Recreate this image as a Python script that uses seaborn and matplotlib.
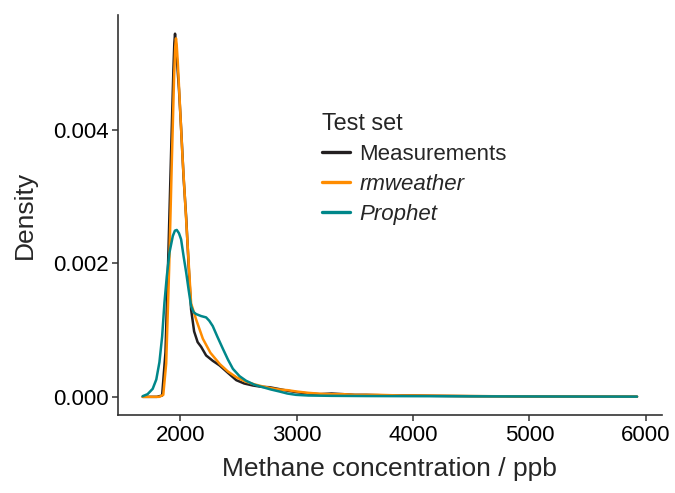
import matplotlib
matplotlib.use("Agg")
import matplotlib.pyplot as plt
import seaborn as sns
import pandas as pd

# ---- data ----
series_names = ["Measurements", "rmweather", "Prophet"]
series_colors = ["#231f20", "#ff8c00", "#00878a"]

measure_x = [1678, 1800, 1845, 1874, 1899, 1922, 1942, 1950, 1956, 1962, 1970, 1990,
             2008, 2030, 2052, 2073, 2094, 2120, 2150, 2180, 2223, 2280, 2339, 2410,
             2482, 2550, 2625, 2700, 2768, 2840, 2912, 3000, 3100, 3200, 3300, 3400,
             3500, 3600, 3800, 4000, 4200, 4500, 4800, 5000, 5300, 5600, 5925]
measure_y = [0.0, 0.0, 0.00002, 0.00067, 0.00216, 0.00365, 0.0049, 0.0053, 0.00544,
             0.0053, 0.0051, 0.0046, 0.00403, 0.00327, 0.00268, 0.00196, 0.00131,
             0.00098, 0.00082, 0.00075, 0.00062, 0.00054, 0.00047, 0.00036, 0.00025,
             0.0002, 0.00017, 0.00015, 0.000144, 0.00012, 0.000095, 0.00007, 0.00005,
             0.00004, 0.00005, 0.00004, 0.00003, 0.00003, 0.00002, 0.00002, 0.000015,
             0.00001, 0.000008, 0.000005, 0.000004, 0.000003, 0.000002]

rmw_x = [1678, 1820, 1855, 1880, 1905, 1928, 1948, 1958, 1964, 1970, 1980, 2000,
         2020, 2045, 2070, 2094, 2137, 2195, 2260, 2341, 2410, 2486, 2560, 2632,
         2700, 2780, 2850, 2923, 3000, 3100, 3214, 3300, 3400, 3500, 3700, 3900,
         4000, 4300, 4600, 5000, 5500, 5925]
rmw_y = [0.0, 0.0, 0.00003, 0.0005, 0.0019, 0.0035, 0.0048, 0.00525, 0.00537,
         0.00528, 0.0050, 0.0043, 0.0036, 0.00285, 0.0021, 0.0014, 0.00116,
         0.00087, 0.00066, 0.00049, 0.00038, 0.00029, 0.00023, 0.00019, 0.00016,
         0.00013, 0.00011, 0.0001, 0.00008, 0.00006, 0.000045, 0.00004, 0.00004,
         0.00003, 0.00003, 0.00002, 0.00002, 0.000015, 0.00001, 0.000006,
         0.000004, 0.000002]

prophet_x = [1678, 1720, 1764, 1795, 1822, 1845, 1865, 1885, 1908, 1937, 1955, 1971,
             1990, 2008, 2030, 2052, 2073, 2094, 2115, 2137, 2180, 2223, 2250, 2280,
             2320, 2367, 2410, 2453, 2510, 2567, 2640, 2711, 2780, 2853, 2920, 2995,
             3100, 3300, 3600, 4000, 4500, 5000, 5500, 5925]
prophet_y = [0.00001, 0.00004, 0.00012, 0.00026, 0.00052, 0.0009, 0.00141, 0.0018,
             0.00216, 0.00241, 0.00249, 0.0025, 0.00245, 0.00236, 0.0021, 0.00186,
             0.0016, 0.00136, 0.00127, 0.00124, 0.00121, 0.00119, 0.00114, 0.00106,
             0.0009, 0.00072, 0.00056, 0.00042, 0.00031, 0.00024, 0.00018, 0.000144,
             0.00011, 0.00008, 0.00005, 0.00003, 0.00002, 0.000015, 0.000012,
             0.00001, 0.000008, 0.000006, 0.000004, 0.000003]

x_ticks = [2000, 3000, 4000, 5000, 6000]
y_ticks = [0.000, 0.002, 0.004]
y_tick_labels = ["0.000", "0.002", "0.004"]

# ---- build long table ----
frames = []
for name, xs, ys in zip(series_names,
                        [measure_x, rmw_x, prophet_x],
                        [measure_y, rmw_y, prophet_y]):
    frames.append(pd.DataFrame({"x": xs, "density": ys, "set": name}))
df = pd.concat(frames, ignore_index=True)

sns.set_theme(style="ticks")
plt.rcParams["font.family"] = ["Liberation Sans", "DejaVu Sans"]

fig = plt.figure(figsize=(6.75, 4.93), dpi=100)
ax = fig.add_axes([118 / 675, 78 / 493, (661.7 - 118) / 675, 400 / 493])

sns.lineplot(data=df, x="x", y="density", hue="set", hue_order=series_names,
             palette=dict(zip(series_names, series_colors)), linewidth=1.8,
             sort=False, estimator=None, ax=ax)

ax.set_xlim(1466, 6137)
ax.set_ylim(-0.000272, 0.00572)
ax.set_xticks(x_ticks)
ax.set_xticklabels([str(t) for t in x_ticks])
ax.set_yticks(y_ticks)
ax.set_yticklabels(y_tick_labels)

for side in ["top", "right"]:
    ax.spines[side].set_visible(False)
for side in ["left", "bottom"]:
    ax.spines[side].set_color("#333333")
    ax.spines[side].set_linewidth(1.2)
ax.tick_params(axis="both", colors="#333333", labelcolor="black", labelsize=16,
               length=4, width=1.1, pad=3)

ax.set_xlabel("Methane concentration / ppb", fontsize=19, labelpad=8)
ax.set_ylabel("Density", fontsize=19, labelpad=11)

leg = ax.legend(title="Test set", loc="upper left", bbox_to_anchor=(0.338, 0.807),
                frameon=False, fontsize=16, title_fontsize=16.8,
                handlelength=1.25, handletextpad=0.45, labelspacing=0.4)
leg._legend_box.align = "left"
for line in leg.get_lines():
    line.set_linewidth(2.4)
for txt in leg.get_texts():
    if txt.get_text() in ("rmweather", "Prophet"):
        txt.set_fontstyle("italic")

fig.savefig("out.png", dpi=100)
